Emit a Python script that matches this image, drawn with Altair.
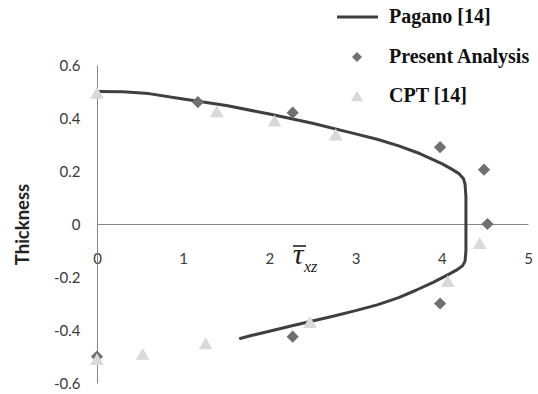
import altair as alt
import pandas as pd

# Pagano [14] exact solution (curve)
pagano_x = [0.0, 0.3, 0.6, 1.0, 1.5, 2.0, 2.5, 3.0, 3.25, 3.5, 3.75, 4.0, 4.1, 4.2, 4.25,
            4.27, 4.28, 4.28, 4.28, 4.27, 4.24, 4.18, 4.09, 3.9, 3.7, 3.5, 3.25, 3.0,
            2.75, 2.5, 2.25, 2.0, 1.8, 1.65]
pagano_y = [0.5, 0.499, 0.492, 0.472, 0.447, 0.415, 0.38, 0.34, 0.32, 0.295, 0.265,
            0.228, 0.21, 0.19, 0.172, 0.15, 0.1, 0.0, -0.1, -0.14, -0.158, -0.172,
            -0.188, -0.22, -0.25, -0.278, -0.305, -0.327, -0.347, -0.366, -0.385,
            -0.405, -0.42, -0.433]

# Present Analysis (diamonds)
present_x = [1.17, 2.27, 3.98, 4.49, 4.53, 3.98, 2.27, 0.0]
present_y = [0.46, 0.42, 0.29, 0.205, 0.0, -0.3, -0.425, -0.5]

# CPT [14] (triangles)
cpt_x = [0.0, 1.39, 2.06, 2.77, 4.44, 4.07, 2.47, 1.26, 0.53, 0.0]
cpt_y = [0.495, 0.425, 0.39, 0.338, -0.072, -0.215, -0.37, -0.45, -0.49, -0.51]

x_ticks = [0, 1, 2, 3, 4, 5]
y_ticks = [-0.6, -0.4, -0.2, 0, 0.2, 0.4, 0.6]

legend_labels = ["Pagano [14]", "Present Analysis", "CPT [14]"]

LINE_C = "#3f3f3f"
DIAM_C = "#707070"
TRI_C = "#d9d9d9"
AXIS_C = "#868686"
LABEL_C = "#3a3a3a"

W, H = 431, 318

pag = pd.DataFrame({"x": pagano_x, "y": pagano_y, "o": range(len(pagano_x))})
pres = pd.DataFrame({"x": present_x, "y": present_y})
cpt = pd.DataFrame({"x": cpt_x, "y": cpt_y})

xs = alt.Scale(domain=[0, 5], nice=False, zero=False)
ys = alt.Scale(domain=[-0.6, 0.6], nice=False, zero=False)

x_axis = alt.Axis(values=x_ticks, title=None, grid=False, ticks=False, domain=True,
                  domainColor=AXIS_C, domainWidth=1, offset=-(H / 2), labelPadding=27,
                  labelFont="Lato", labelFontSize=15, labelColor=LABEL_C,
                  format="d", labelFlush=False)
y_axis = alt.Axis(values=y_ticks, title="Thickness", grid=False, ticks=False,
                  domain=True, domainColor=AXIS_C, domainWidth=1, labelPadding=17,
                  labelFont="Lato", labelFontSize=15, labelColor=LABEL_C,
                  labelExpr="datum.value == 0 ? '0' : replace(format(datum.value, '.1f'), '\u2212', '-')",
                  titleFont="Lato", titleFontSize=18.5, titleFontWeight="bold",
                  titleColor="#222222", titlePadding=21)

line = alt.Chart(pag).mark_line(color=LINE_C, strokeWidth=3, interpolate="linear",
                                strokeJoin="round", strokeCap="butt").encode(
    x=alt.X("x:Q", scale=xs, axis=x_axis),
    y=alt.Y("y:Q", scale=ys, axis=y_axis),
    order="o:Q",
)

diam = alt.Chart(pres).mark_point(shape="diamond", filled=True, color=DIAM_C, size=150, opacity=1).encode(
    x=alt.X("x:Q", scale=xs), y=alt.Y("y:Q", scale=ys)
)

tri = alt.Chart(cpt).mark_point(shape="triangle-up", filled=True, color=TRI_C, size=190, opacity=1).encode(
    x=alt.X("x:Q", scale=xs), y=alt.Y("y:Q", scale=ys)
)

# x-axis title: tau bar with subscript xz
tau = alt.Chart(pd.DataFrame({"t": ["\u03c4"]})).mark_text(
    font="Liberation Serif", fontStyle="italic", fontSize=30, color="#222222", align="center", baseline="middle"
).encode(text="t:N", x=alt.value(201), y=alt.value(190))
tau_bar = alt.Chart(pd.DataFrame({"a": [0]})).mark_rule(color="#222222", strokeWidth=1.6).encode(
    x=alt.value(196), x2=alt.value(209), y=alt.value(181)
)
sub = alt.Chart(pd.DataFrame({"t": ["xz"]})).mark_text(
    font="Liberation Serif", fontStyle="italic", fontSize=16, color="#222222", align="left", baseline="middle"
).encode(text="t:N", x=alt.value(207), y=alt.value(202))

# manual legend
leg_line = alt.Chart(pd.DataFrame({"a": [0]})).mark_rule(color=LINE_C, strokeWidth=3).encode(
    x=alt.value(240), x2=alt.value(281), y=alt.value(-48)
)
leg_d = alt.Chart(pd.DataFrame({"a": [0]})).mark_point(shape="diamond", filled=True, color=DIAM_C, size=100, opacity=1).encode(
    x=alt.value(260), y=alt.value(-8)
)
leg_t = alt.Chart(pd.DataFrame({"a": [0]})).mark_point(shape="triangle-up", filled=True, color=TRI_C, size=150, opacity=1).encode(
    x=alt.value(260), y=alt.value(31)
)
leg_txt = alt.Chart(pd.DataFrame({"t": legend_labels, "yy": [-48, -8, 31]})).mark_text(
    font="Liberation Serif", fontWeight="bold", fontSize=20, color="#111111", align="left", baseline="middle"
).encode(text="t:N", x=alt.value(292), y=alt.Y("yy:Q", scale=None))

chart = alt.layer(line, diam, tri, tau, tau_bar, sub, leg_line, leg_d, leg_t, leg_txt).properties(
    width=W, height=H,
    autosize=alt.AutoSizeParams(type="none"),
    padding={"left": 97, "top": 65, "right": 10, "bottom": 11},
    background="white",
).configure_view(stroke=None)

chart.save("out.html", embed_options={"renderer": "svg", "actions": False})
